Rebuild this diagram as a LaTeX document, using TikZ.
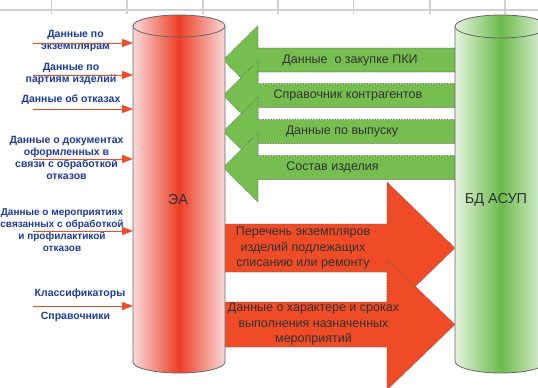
\documentclass[tikz,border=0pt]{standalone}
\usepackage{fontspec}
\setmainfont{Liberation Sans}
\usetikzlibrary{arrows.meta}
\definecolor{lblue}{RGB}{30,60,155}
\definecolor{ared}{RGB}{238,75,38}
\definecolor{agreen}{RGB}{118,190,80}
\definecolor{rpale}{RGB}{250,218,218}
\definecolor{rdeep}{RGB}{236,62,36}
\definecolor{gpale}{RGB}{228,244,222}
\definecolor{gdeep}{RGB}{108,186,76}
\definecolor{txtgray}{RGB}{50,50,50}
\begin{document}
\begin{tikzpicture}[x=1pt,y=-1pt,
  gridline/.style={draw=black!18,line width=1.2pt},
  lbl/.style={font=\fontsize{10.5}{12}\selectfont\bfseries,text=lblue,align=center,inner sep=0pt},
  inarrow/.style={draw=ared,line width=1pt,-{Triangle[length=11pt,width=8pt]}},
  garrow/.style={fill=agreen,draw=black!60,densely dotted,line width=0.6pt},
  rarrow/.style={fill=ared,draw=black!60,densely dotted,line width=0.6pt},
  atxt/.style={font=\fontsize{12.5}{15.5}\selectfont,text=txtgray,align=center,inner sep=0pt},
  cyltxt/.style={font=\fontsize{14.5}{16}\selectfont,text=txtgray,inner sep=0pt},
  redshade/.style={left color=rpale,right color=rpale,middle color=rdeep},
  greenshade/.style={left color=gpale,right color=gpale,middle color=gdeep},
  cylline/.style={draw=black!60,line width=0.8pt}]
\useasboundingbox (0,0) rectangle (538,388);
\clip (0,0) rectangle (538,388);
\fill[white] (0,0) rectangle (538,388);
% spreadsheet grid
\draw[gridline] (0,10) -- (538,10);
\foreach \gx in {51.5,127,203,278,353.5,430,505} \draw[gridline] (\gx,0) -- (\gx,13.5);
% green arrows (from DB to EA)
\foreach \t in {60,95.5,131.5,167.5}
  \path[garrow] (223,\t) -- (258,\t-34.5) -- (258,\t-12) -- (455,\t-12) -- (455,\t+12) -- (258,\t+12) -- (258,\t+34.5) -- cycle;
\node[atxt] (g1) at (350,60) {Данные \ о закупке ПКИ};
\node[atxt] (g2) at (348,95) {Справочник контрагентов};
\node[atxt] (g3) at (342,131) {Данные по выпуску};
\node[atxt] (g4) at (332.5,167) {Состав изделия};
% red arrows (from EA to DB)
\path[rarrow] (218,224) -- (387,224) -- (387,182) -- (455,248) -- (387,314) -- (387,272) -- (218,272) -- cycle;
\path[rarrow] (218,302) -- (387,302) -- (387,259) -- (455,324.5) -- (387,390) -- (387,347) -- (218,347) -- cycle;
\node[atxt] (r1) at (303,248) {Перечень экземпляров\\изделий подлежащих\\списанию или ремонту};
\node[atxt] (r2) at (313.5,324) {Данные о характере и сроках\\выполнения назначенных\\мероприятий};
% red cylinder EA
\path[redshade] (133,26) -- (133,362) arc[start angle=180,end angle=360,x radius=46pt,y radius=11pt] -- (225,26) -- cycle;
\draw[cylline] (133,26) -- (133,362) arc[start angle=180,end angle=360,x radius=46pt,y radius=11pt] -- (225,26);
\path[redshade,cylline] (179,26) ellipse[x radius=46pt,y radius=11pt];
\node[cyltxt] (ea) at (178,200) {ЭА};
% green cylinder DB
\path[greenshade] (455,26.5) -- (455,361) arc[start angle=180,end angle=360,x radius=46pt,y radius=12pt] -- (547,26.5) -- cycle;
\draw[cylline] (455,26.5) -- (455,361) arc[start angle=180,end angle=360,x radius=46pt,y radius=12pt] -- (547,26.5);
\path[greenshade,cylline] (501,26.5) ellipse[x radius=46pt,y radius=11.5pt];
\node[cyltxt] (db) at (496,200) {БД АСУП};
% left input labels and arrows
\node[lbl] (l1) at (75.5,41) {Данные по\\экземплярам};
\node[lbl] (l2) at (71,74) {Данные по\\партиям изделий};
\node[lbl] (l3) at (71,99.5) {Данные об отказах};
\node[lbl] (l4) at (66.5,158) {Данные о документах\\оформленных в\\связи с обработкой\\отказов};
\node[lbl,font=\fontsize{10}{12}\selectfont\bfseries] (l5) at (62,230.5) {Данные о мероприятиях\\связанных с обработкой\\и профилактикой\\отказов};
\node[lbl] (l6) at (80,293.5) {Классификаторы};
\node[lbl] (l7) at (75.5,316.5) {Справочники};
\foreach \i/\yy in {1/43,2/75,3/109,4/159,5/231,6/306} {
  \coordinate (s\i) at (33,\yy);
  \coordinate (e\i) at (133,\yy);
  \draw[inarrow] (s\i) -- (e\i);
}
\end{tikzpicture}
\end{document}
